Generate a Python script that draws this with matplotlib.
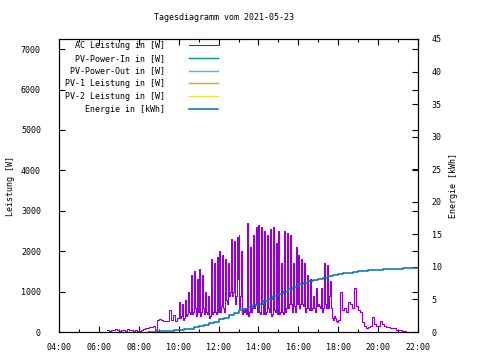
import numpy as np
import matplotlib.pyplot as plt
from matplotlib.ticker import MultipleLocator, FuncFormatter

# Tagesdiagramm: AC Leistung (W) und Energie (kWh) ueber den Tag

datum = "2021-05-23"

ac_frueh = [
    40, 30, 60, 50, 70, 40, 30, 60, 40, 30, 70, 60, 40, 30, 50, 20,       # 6.4 - 7.9
    20, 40, 80, 100, 90, 120, 130, 150, 60, 300,                          # 8.0 - 8.9
    320, 300, 270, 280, 260, 540, 300, 420, 280, 350,                     # 9.0 - 9.9
]
ac_mittag = [
    740, 350, 400, 700, 300, 350, 800, 400, 450, 1000, 500, 450, 1400, 450, 500, 1500, 600, 400, 1300, 500,
    1550, 400, 500, 1400, 600, 450, 1000, 500, 450, 900, 350, 400, 1800, 450, 500, 1700, 500, 450, 1850, 500,
    2000, 500, 650, 1900, 600, 500, 1800, 800, 700, 1700, 900, 1000, 2300, 900, 1000, 2250, 700, 900, 2350, 1300,
    2400, 600, 900, 2000, 450, 550, 500, 600, 450, 2700, 400, 500, 2100, 500, 600, 2400, 600, 700, 2600, 500,
    2650, 500, 450, 2600, 700, 450, 2500, 450, 500, 2400, 600, 500, 2550, 400, 450, 2600, 550, 500, 2200, 450,
    2500, 450, 500, 1700, 500, 450, 2500, 500, 600, 2450, 600, 700, 2400, 700, 500, 1700, 650, 500, 2100, 700,
    1900, 600, 700, 1800, 700, 650, 1700, 500, 600, 1400, 600, 550, 1300, 550, 600, 900, 600, 500, 1100, 650,
    700, 650, 600, 1100, 500, 600, 1700, 700, 600, 1650, 600, 900, 1250, 600, 350, 300, 400, 350, 280, 250,
]
ac_abend = [
    300, 1000, 550, 600, 500, 750, 700, 600, 1080, 650,                   # 18.0 - 18.9
    550, 500, 250, 150, 100, 120, 150, 380, 200, 150,                     # 19.0 - 19.9
    150, 270, 200, 150, 130, 120, 110, 100, 90, 60,                       # 20.0 - 20.9
    50, 40, 30, 20, 0,                                                    # 21.0 - 21.4
]
ac_zeit = np.concatenate([6.4 + 0.1 * np.arange(len(ac_frueh)),
                          10.0 + 0.05 * np.arange(len(ac_mittag)),
                          18.0 + 0.1 * np.arange(len(ac_abend))])
ac_leistung = ac_frueh + ac_mittag + ac_abend

energie = [
    0.0, 0.05, 0.1, 0.15, 0.2, 0.25, 0.3, 0.4, 0.5, 0.7,
    0.95, 1.15, 1.35, 1.6, 1.95, 2.2, 2.55, 2.95, 3.35, 3.6,
    3.8, 4.1, 4.35, 4.75, 5.1, 5.5, 5.85, 6.2, 6.6, 6.95,
    7.3, 7.55, 7.8, 7.95, 8.15, 8.35, 8.55, 8.7, 8.85, 9.0,
    9.1, 9.2, 9.35, 9.4, 9.45, 9.5, 9.55, 9.6, 9.65, 9.7,
    9.75, 9.8, 9.85, 9.85, 9.85,
]
en_zeit = 8.5 + 0.25 * np.arange(len(energie))

# these series have no data on this day
pv_in, pv_out, pv1, pv2 = [], [], [], []

farben = {
    "ac": "#9400d3", "pv_in": "#009e73", "pv_out": "#56b4e9",
    "pv1": "#e69f00", "pv2": "#f0e442", "energie": "#0072b2",
}

plt.rcParams["font.family"] = "DejaVu Sans Mono"
plt.rcParams["font.size"] = 6

fig = plt.figure(figsize=(4.8, 3.6), dpi=100)
ax = fig.add_axes([59 / 480, 28 / 360, 359 / 480, 293 / 360])
ax2 = ax.twinx()

l1, = ax.step(ac_zeit, ac_leistung, where="post", color=farben["ac"], lw=0.8,
              label="AC Leistung in [W]")
l2, = ax.step(pv_in, pv_in, color=farben["pv_in"], lw=1.0, label="PV-Power-In in [W]")
l3, = ax.step(pv_out, pv_out, color=farben["pv_out"], lw=1.0, label="PV-Power-Out in [W]")
l4, = ax.step(pv1, pv1, color=farben["pv1"], lw=1.0, label="PV-1 Leistung in [W]")
l5, = ax.step(pv2, pv2, color=farben["pv2"], lw=1.0, label="PV-2 Leistung in [W]")
l6, = ax2.step(en_zeit, energie, where="post", color=farben["energie"], lw=1.1,
               label="Energie in [kWh]")

ax.set_xlim(4, 22)
ax.set_ylim(0, 7250)
ax2.set_ylim(0, 45)

ax.xaxis.set_major_locator(MultipleLocator(2))
ax.xaxis.set_minor_locator(MultipleLocator(1))
ax.xaxis.set_major_formatter(FuncFormatter(lambda v, p: "%02d:00" % int(round(v))))
ax.yaxis.set_major_locator(MultipleLocator(1000))
ax2.yaxis.set_major_locator(MultipleLocator(5))

ax.tick_params(which="both", direction="in", top=True, right=True, width=0.8,
               labelsize=6, pad=8)
ax.tick_params(which="major", length=4)
ax.tick_params(which="minor", length=2.5)
ax.tick_params(axis="y", pad=13)
ax2.tick_params(direction="in", length=4, width=0.8, labelsize=6, pad=10)

for a in (ax, ax2):
    for s in a.spines.values():
        s.set_linewidth(0.8)

ax.set_ylabel("Leistung [W]", fontsize=6, labelpad=4)
ax2.set_ylabel("Energie [kWh]", fontsize=6, labelpad=5)

fig.text(224 / 480, 1 - 18 / 360, "Tagesdiagramm vom " + datum,
         ha="center", va="center", fontsize=6)

handles = [l1, l2, l3, l4, l5, l6]
ax2.legend(handles, [h.get_label() for h in handles], loc="upper left",
           bbox_to_anchor=(65 / 480, 1 - 41 / 360), bbox_transform=fig.transFigure,
           frameon=False, markerfirst=False, borderpad=0, borderaxespad=0,
           handlelength=3.4, handletextpad=2.9, labelspacing=0.45, fontsize=6)

fig.savefig("out.png", dpi=100)
